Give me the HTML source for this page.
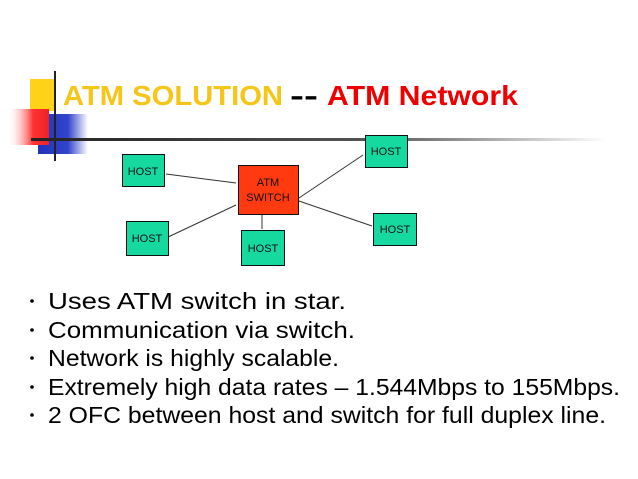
<!DOCTYPE html>
<html><head><meta charset="utf-8"><style>
html,body{margin:0;padding:0;background:#fff;}
svg{display:block;}
</style></head><body>
<svg width="638" height="479" viewBox="0 0 638 479" xmlns="http://www.w3.org/2000/svg" font-family="Liberation Sans, sans-serif">
<defs>
<linearGradient id="hl" x1="0" x2="1" y1="0" y2="0">
<stop offset="0" stop-color="#222"/><stop offset="0.6" stop-color="#555"/><stop offset="1" stop-color="#fff"/>
</linearGradient>
<linearGradient id="rg" x1="0" x2="1"><stop offset="0" stop-color="#fff" stop-opacity="0.2"/><stop offset="0.6" stop-color="#f33"/><stop offset="1" stop-color="#e22"/></linearGradient>
<linearGradient id="bg" x1="0" x2="1"><stop offset="0" stop-color="#2233bb"/><stop offset="0.6" stop-color="#3344cc"/><stop offset="1" stop-color="#fff"/></linearGradient>
</defs>
<rect x="30" y="79" width="26" height="32" fill="#ffd21a"/>
<rect x="38" y="114" width="50" height="40" fill="url(#bg)"/>
<rect x="9" y="109" width="40" height="36" fill="url(#rg)"/>
<rect x="54" y="71" width="2" height="90" fill="#222"/>
<rect x="31" y="138" width="575" height="3" fill="url(#hl)"/>
<text x="63" y="105" font-size="28" font-weight="bold" fill="#f5c518" textLength="220" lengthAdjust="spacingAndGlyphs">ATM SOLUTION</text>
<text x="290" y="105" font-size="28" font-weight="bold" fill="#000" textLength="28" lengthAdjust="spacingAndGlyphs">--</text>
<text x="327" y="105" font-size="28" font-weight="bold" fill="#e00" textLength="191" lengthAdjust="spacingAndGlyphs">ATM Network</text>
<g stroke="#333" stroke-width="1">
<line x1="166" y1="174" x2="236" y2="183"/>
<line x1="296" y1="200" x2="363" y2="155"/>
<line x1="166" y1="238" x2="236" y2="205"/>
<line x1="262" y1="214" x2="262" y2="229"/>
<line x1="296" y1="200" x2="372" y2="226"/>
</g>
<g stroke="#111" stroke-width="1" fill="#16d9a0">
<rect x="122.5" y="154.5" width="42" height="32"/>
<rect x="365.5" y="135.5" width="42" height="32"/>
<rect x="126.5" y="221.5" width="42" height="34"/>
<rect x="241.5" y="230.5" width="43" height="35"/>
<rect x="373.5" y="213.5" width="43" height="32"/>
<rect x="238.5" y="165.5" width="60" height="49" fill="#ff3a10"/>
</g>
<g font-size="11" fill="#111" text-anchor="middle">
<text x="143" y="175">HOST</text>
<text x="386" y="155">HOST</text>
<text x="147" y="242">HOST</text>
<text x="263" y="252">HOST</text>
<text x="395" y="233">HOST</text>
<text x="268" y="186">ATM</text>
<text x="268" y="201">SWITCH</text>
</g>
<g fill="#000">
<circle cx="32" cy="301" r="1.8"/>
<circle cx="32" cy="330" r="1.8"/>
<circle cx="32" cy="358" r="1.8"/>
<circle cx="32" cy="387" r="1.8"/>
<circle cx="32" cy="415" r="1.8"/>
</g>
<g font-size="23" fill="#000">
<text x="48" y="309" textLength="298" lengthAdjust="spacingAndGlyphs">Uses ATM switch in star.</text>
<text x="48" y="338" textLength="307" lengthAdjust="spacingAndGlyphs">Communication via switch.</text>
<text x="48" y="366" textLength="291" lengthAdjust="spacingAndGlyphs">Network is highly scalable.</text>
<text x="48" y="395" textLength="572" lengthAdjust="spacingAndGlyphs">Extremely high data rates – 1.544Mbps to 155Mbps.</text>
<text x="48" y="423" textLength="558" lengthAdjust="spacingAndGlyphs">2 OFC between host and switch for full duplex line.</text>
</g>
</svg>
</body></html>
